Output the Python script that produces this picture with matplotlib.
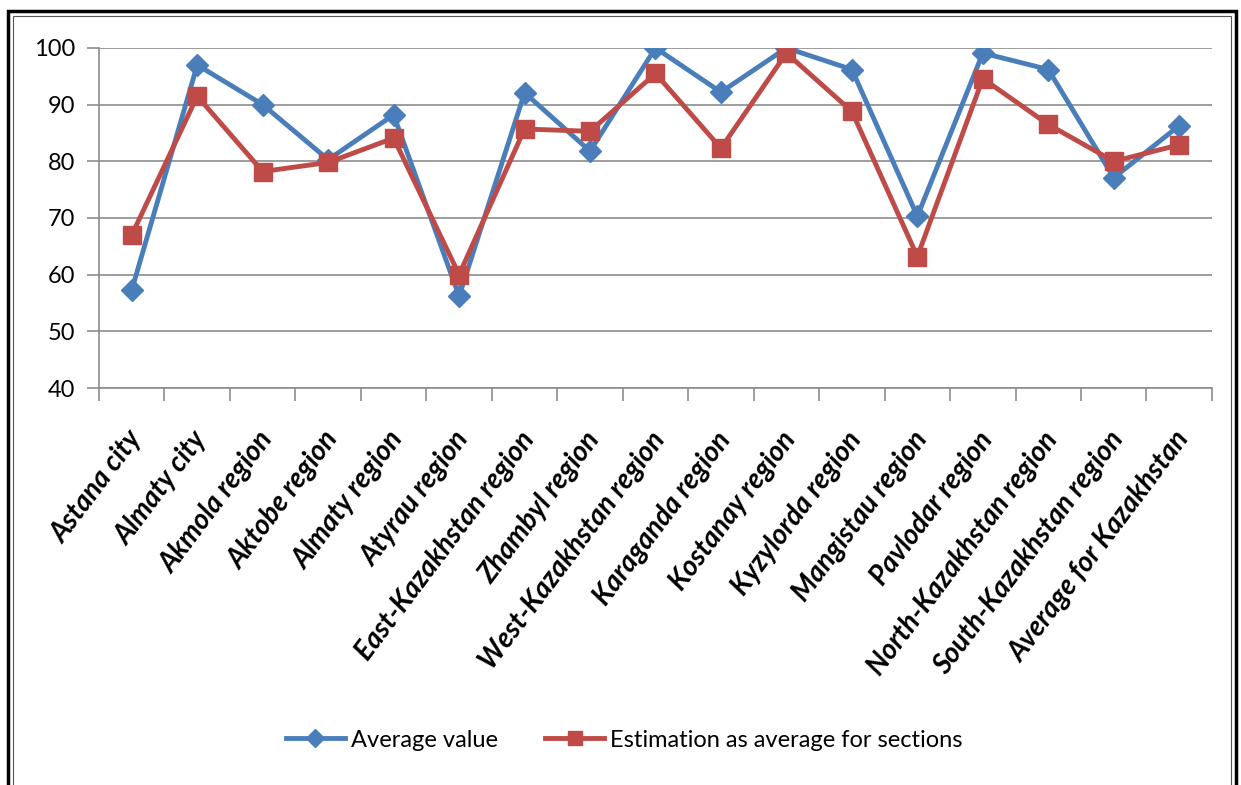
import numpy as np
import matplotlib.pyplot as plt
import matplotlib.transforms as mtransforms
from matplotlib.patches import Rectangle

# regions of Kazakhstan, two scores each
regions = ["Astana city", "Almaty city", "Akmola region", "Aktobe region", "Almaty region",
           "Atyrau region", "East-Kazakhstan region", "Zhambyl region", "West-Kazakhstan region",
           "Karaganda region", "Kostanay region", "Kyzylorda region", "Mangistau region",
           "Pavlodar region", "North-Kazakhstan region", "South-Kazakhstan region",
           "Average for Kazakhstan"]
average_value = [57.3, 97.0, 90.0, 80.3, 88.2, 56.2, 92.1, 81.8, 100.0, 92.2, 100.0,
                 96.2, 70.3, 99.1, 96.2, 77.1, 86.3]
section_estimate = [67.0, 91.5, 78.2, 79.8, 84.1, 60.0, 85.7, 85.3, 95.5, 82.3, 99.1,
                    88.8, 63.2, 94.6, 86.5, 80.0, 82.9]

font = ["Lato", "DejaVu Sans"]
blue, red = "#4a7ebb", "#be4b48"

fig = plt.figure(figsize=(12.41, 7.85), dpi=100)
ax = fig.add_axes([0.0798, 0.5057, 0.8968, 0.4332])

x = np.arange(len(regions))
ax.plot(x, average_value, color=blue, lw=3.5, marker="D", ms=11, label="Average value", zorder=3)
ax.plot(x, section_estimate, color=red, lw=3.5, marker="s", ms=12.5,
        label="Estimation as average for sections", zorder=3)

ax.set_xlim(-0.5, len(regions) - 0.5)
ax.set_ylim(40, 100)
ax.set_yticks(range(40, 101, 10))
ax.yaxis.grid(True, color="#8c8c8c", lw=1.2)
ax.set_axisbelow(True)
for s in ["top", "right"]:
    ax.spines[s].set_visible(False)
for s in ["left", "bottom"]:
    ax.spines[s].set_color("#8c8c8c")
    ax.spines[s].set_linewidth(1.2)

# category boundary ticks on the x axis
ax.set_xticks(np.arange(-0.5, len(regions)), minor=True)
ax.set_xticks(x)
ax.tick_params(axis="x", which="major", length=0, pad=28)
ax.tick_params(axis="x", which="minor", length=9, color="#8c8c8c", width=1.2)
ax.tick_params(axis="y", length=9, color="#8c8c8c", width=1.2, pad=8)
ax.set_xticklabels(regions, rotation=53, ha="right", rotation_mode="anchor",
                   fontsize=20, fontweight="bold", fontstyle="italic", family=font)
shift = mtransforms.ScaledTranslation(-6 / 100, 0, fig.dpi_scale_trans)
for t in ax.get_xticklabels():
    t.set_transform(t.get_transform() + shift)
for t in ax.get_yticklabels():
    t.set_fontsize(17)
    t.set_family(font)

fig.legend(loc="center", bbox_to_anchor=(0.503, 0.057), ncol=2, frameon=False,
           prop={"family": font, "size": 17}, handlelength=2.5, columnspacing=2.0,
           handletextpad=0.25, markerscale=0.8)

# double frame around the chart
fig.patches.append(Rectangle((0.0065, -0.05), 0.9895, 1.036, transform=fig.transFigure,
                             fill=False, ec="black", lw=2.5))
fig.patches.append(Rectangle((0.0105, -0.05), 0.9815, 1.029, transform=fig.transFigure,
                             fill=False, ec="#555555", lw=0.8))

fig.savefig("out.png", dpi=100)
